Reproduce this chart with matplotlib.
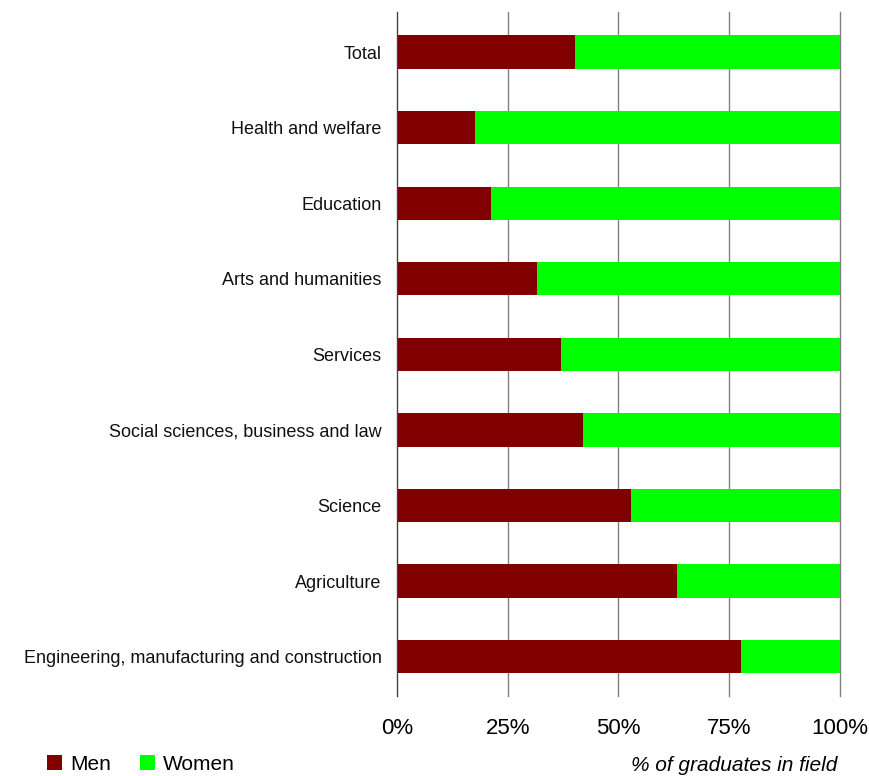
import matplotlib.pyplot as plt

plt.rcParams["font.family"] = ["Liberation Sans", "DejaVu Sans"]

fields = [
    "Engineering, manufacturing and construction",
    "Agriculture",
    "Science",
    "Social sciences, business and law",
    "Services",
    "Arts and humanities",
    "Education",
    "Health and welfare",
    "Total",
]
men = [77.7, 63.2, 52.8, 42.0, 37.0, 31.6, 21.2, 17.6, 40.2]
women = [100 - m for m in men]


def main():
    fig = plt.figure(figsize=(8.7, 7.76), dpi=100)
    ax = fig.add_axes([0.4563, 0.1031, 0.5092, 0.8814])

    y = range(len(fields))
    b1 = ax.barh(y, men, height=0.44, color="#800000", label="Men", zorder=3)
    b2 = ax.barh(y, women, left=men, height=0.44, color="#00ff00", label="Women", zorder=3)

    ax.set_xlim(0, 100)
    ax.set_ylim(-0.52, 8.53)
    ax.set_xticks([0, 25, 50, 75, 100])
    ax.set_xticklabels(["0%", "25%", "50%", "75%", "100%"], fontsize=16)
    ax.set_yticks(list(y))
    ax.set_yticklabels(fields, fontsize=13, color="#111111")
    ax.tick_params(axis="x", length=0, pad=16)
    ax.tick_params(axis="y", length=0, pad=11)
    ax.grid(axis="x", color="#808080", linewidth=1, zorder=0)
    for gl in ax.get_xgridlines():
        gl.set_clip_on(False)
    for s in ["top", "right", "bottom"]:
        ax.spines[s].set_visible(False)
    ax.spines["left"].set_color("#404040")
    ax.spines["left"].set_zorder(4)

    fig.legend(handles=[b1, b2], labels=["Men", "Women"], loc="center left",
               bbox_to_anchor=(0.045, 0.015), ncol=2, frameon=False, fontsize=15,
               handlelength=0.7, handleheight=0.7, handletextpad=0.4,
               columnspacing=1.4, borderaxespad=0)
    fig.text(0.962, 0.014, "% of graduates in field", ha="right", va="center",
             fontsize=15, style="italic")

    fig.savefig("out.png", dpi=100)


if __name__ == "__main__":
    main()
